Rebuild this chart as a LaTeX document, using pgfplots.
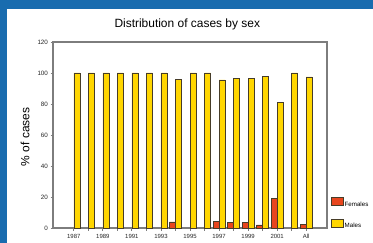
\documentclass[border=0pt]{standalone}
\usepackage{fontspec}
\setmainfont{Liberation Sans}
\usepackage{pgfplots}
\pgfplotsset{compat=1.18}
\definecolor{bgblue}{RGB}{25,108,175}
\definecolor{femred}{RGB}{232,70,30}
\definecolor{malegold}{RGB}{255,214,0}
\definecolor{framegray}{RGB}{125,125,125}
\definecolor{barline}{RGB}{70,60,40}
\begin{document}
\begin{tikzpicture}
\fill[bgblue] (0bp,0bp) rectangle (373bp,243bp);
\fill[white] (7bp,0bp) rectangle (373bp,234bp);
\begin{axis}[
  at={(53bp,15bp)}, anchor=south west,
  scale only axis, width=274bp, height=186bp,
  xmin=-1.43, xmax=17.43, ymin=0, ymax=120,
  ytick={0,20,...,120},
  xtick={0,...,16},
  xticklabels={1987,,1989,,1991,,1993,,1995,,1997,,1999,,2001,,All},
  tick pos=left, tick align=outside,
  major tick length=2.5bp,
  major tick style={framegray, line width=0.8bp},
  axis line style={framegray, line width=1.2bp},
  /pgf/number format/assume math mode=true,
  xticklabel style={font=\fontsize{6}{7}\selectfont, text=black!85},
  yticklabel style={font=\fontsize{6.3}{7}\selectfont, text=black!85, xshift=1bp},
  title={Distribution of cases by sex},
  title style={font=\fontsize{12}{14}\selectfont, anchor=base, at={(axis description cs:0.49,1)}, yshift=8.7bp},
  ylabel={\% of cases},
  ylabel style={font=\fontsize{12}{14}\selectfont, anchor=center, at={(axis description cs:-0.102,0.49)}},
  legend style={at={(axis description cs:1,0)}, anchor=south west, xshift=4bp, yshift=-2bp,
    draw=none, fill=none, inner xsep=0pt, inner ysep=0pt,
    nodes={inner sep=1bp}, row sep=10bp,
    font=\fontsize{6.2}{7}\selectfont},
  legend cell align=left,
  legend image code/.code={\draw[#1] (0bp,-1bp) rectangle (12bp,7bp);},
]
\addplot[ybar, bar width=6bp, bar shift=-3bp, fill=femred, draw=barline, line width=0.5bp]
  coordinates {(7,4) (10,4.5) (11,3.5) (12,3.5) (13,2) (14,19) (16,2.5)};
\addlegendentry{Females}
\addplot[ybar, bar width=6bp, bar shift=3bp, fill=malegold, draw=barline, line width=0.5bp]
  coordinates {(0,100) (1,100) (2,100) (3,100) (4,100) (5,100) (6,100) (7,96)
    (8,100) (9,100) (10,95.5) (11,96.5) (12,96.5) (13,98) (14,81) (15,100) (16,97.5)};
\addlegendentry{Males}
\end{axis}
\pgfresetboundingbox
\useasboundingbox (0bp,0bp) rectangle (373bp,243bp);
\end{tikzpicture}
\end{document}
